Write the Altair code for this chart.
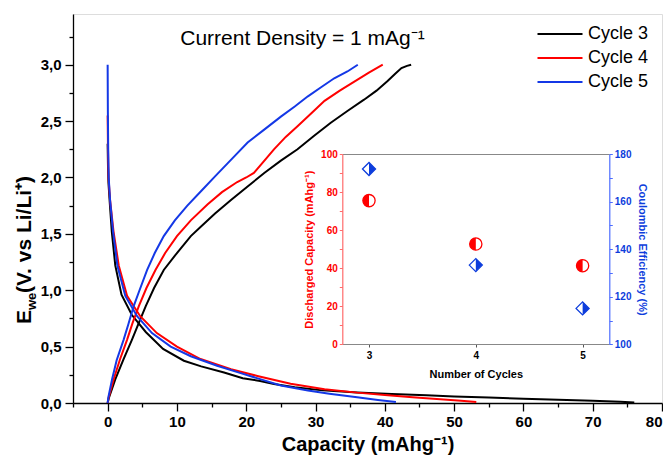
import altair as alt
import pandas as pd

# ---------------- main chart data (Capacity mAh/g, E_we V) ----------------
cycle_names = ["Cycle 3", "Cycle 4", "Cycle 5"]
cycle_colors = ["#000000", "#ff0000", "#1438e6"]

# Cycle 3
c3_dis_x = [0, 0.05, 0.12, 0.3, 0.6, 1.1, 2.0, 3.5, 5.5, 8, 11, 13.5, 16.8, 19.5, 22, 24, 27, 31, 36, 41, 46, 50, 55, 60, 65, 70, 74, 76]
c3_dis_y = [2.3, 2.1, 1.95, 1.78, 1.52, 1.22, 0.96, 0.78, 0.63, 0.48, 0.375, 0.325, 0.27, 0.22, 0.195, 0.168, 0.14, 0.112, 0.093, 0.08, 0.068, 0.058, 0.048, 0.038, 0.029, 0.02, 0.012, 0.005]
c3_chg_x = [0, 0.2, 1.1, 2.3, 3.5, 4.5, 5.5, 6.7, 8.1, 10, 12, 13.4, 15.5, 17.8, 20.2, 22.6, 25, 27.4, 29.8, 32.2, 34.6, 37, 38.8, 40.4, 41.5, 42.4, 43.2, 43.8]
c3_chg_y = [0.0, 0.05, 0.21, 0.39, 0.56, 0.71, 0.86, 1.02, 1.18, 1.33, 1.48, 1.56, 1.68, 1.80, 1.92, 2.04, 2.15, 2.25, 2.37, 2.485, 2.59, 2.69, 2.77, 2.855, 2.92, 2.97, 2.99, 3.0]

# Cycle 4
c4_dis_x = [0, 0.05, 0.12, 0.35, 0.85, 1.6, 2.8, 4.7, 7.1, 10, 13.4, 17.8, 21.6, 26.4, 31.3, 36, 40, 44, 48, 51, 53.2]
c4_dis_y = [2.55, 2.25, 2.0, 1.8, 1.52, 1.22, 0.95, 0.77, 0.62, 0.5, 0.39, 0.3, 0.24, 0.17, 0.122, 0.092, 0.072, 0.052, 0.033, 0.019, 0.008]
c4_chg_x = [0, 0.15, 0.87, 1.8, 2.8, 3.6, 4.5, 5.6, 6.9, 8.3, 10, 12, 14.4, 16.5, 18.7, 20, 21.1, 22.5, 24, 25.7, 27.4, 29.4, 31.3, 33.5, 35.6, 37.7, 39.7]
c4_chg_y = [0.0, 0.05, 0.21, 0.39, 0.56, 0.71, 0.86, 1.02, 1.18, 1.33, 1.48, 1.62, 1.76, 1.87, 1.96, 2.0, 2.04, 2.14, 2.25, 2.36, 2.455, 2.57, 2.68, 2.77, 2.85, 2.93, 3.0]

# Cycle 5
c5_dis_x = [0, 0.03, 0.08, 0.15, 0.35, 0.78, 1.4, 2.55, 4.25, 6.4, 9.1, 12, 15.8, 19.2, 22, 25, 28.9, 32, 36, 39, 41.6]
c5_dis_y = [3.0, 2.6, 2.25, 2.0, 1.8, 1.52, 1.22, 0.95, 0.77, 0.62, 0.5, 0.415, 0.33, 0.265, 0.212, 0.155, 0.11, 0.082, 0.05, 0.027, 0.008]
c5_chg_x = [0, 0.1, 0.64, 1.3, 2.3, 3.0, 3.76, 4.6, 5.7, 6.8, 8.1, 9.7, 11.5, 13.5, 15.5, 18, 20.2, 22.5, 25, 27, 28.9, 30.8, 32.7, 34.6, 36.1]
c5_chg_y = [0.0, 0.05, 0.21, 0.38, 0.56, 0.7, 0.86, 1.0, 1.18, 1.33, 1.48, 1.62, 1.75, 1.88, 2.01, 2.17, 2.31, 2.42, 2.54, 2.63, 2.72, 2.8, 2.88, 2.94, 3.0]

# ---------------- inset data ----------------
inset_cycles = [3, 4, 5]
discharged_capacity = [75.5, 52.7, 41.3]
coulombic_efficiency = [173.7, 133.3, 115.1]

x_ticks = list(range(-5, 81, 5))
y_ticks = [i * 0.25 for i in range(0, 14)]
inset_left_ticks = list(range(0, 101, 10))
inset_right_ticks = list(range(100, 181, 10))

# ---------------- build tables ----------------
rows = []
def add(cycle, branch, xs, ys):
    for i, (a, b) in enumerate(zip(xs, ys)):
        rows.append({"cycle": cycle, "branch": branch, "i": i, "cap": a, "e": b})

add("Cycle 3", "dis", c3_dis_x, c3_dis_y)
add("Cycle 3", "chg", c3_chg_x, c3_chg_y)
add("Cycle 4", "dis", c4_dis_x, c4_dis_y)
add("Cycle 4", "chg", c4_chg_x, c4_chg_y)
add("Cycle 5", "dis", c5_dis_x, c5_dis_y)
add("Cycle 5", "chg", c5_chg_x, c5_chg_y)
df = pd.DataFrame(rows)

inset = pd.DataFrame({"n": inset_cycles, "cap": discharged_capacity, "ce": coulombic_efficiency})

FONT = "Liberation Sans"
W, H = 589, 389
RED = "#ff0000"
BLUE = "#0d3ddc"

x_main = alt.Scale(domain=[-5, 80], nice=False, zero=False)
y_main = alt.Scale(domain=[0, 3.45], nice=False, zero=False)

x_axis = alt.Axis(
    orient="bottom", values=x_ticks, title="Capacity (mAhg⁻¹)",
    labelExpr="datum.value % 10 === 0 ? datum.label : ''",
    tickSize={"condition": {"test": "datum.value % 10 === 0", "value": 8}, "value": 4},
    labelFont=FONT, labelFontSize=15, labelFontWeight="bold", labelColor="black", labelPadding=3,
    titleFont=FONT, titleFontSize=20, titleFontWeight="bold", titleColor="black", titlePadding=5,
    domainColor="black", domainWidth=1.3, tickColor="black", tickWidth=1.3, grid=False,
    labelFlush=True, labelOverlap=False,
)
y_axis = alt.Axis(
    orient="left", values=y_ticks, title=None,
    labelExpr="round(datum.value * 4) % 2 === 0 ? replace(format(datum.value, '.1f'), '.', ',') : ''",
    tickSize={"condition": {"test": "round(datum.value * 4) % 2 === 0", "value": 8}, "value": 4},
    labelFont=FONT, labelFontSize=15, labelFontWeight="bold", labelColor="black", labelPadding=4,
    domainColor="black", domainWidth=1.3, tickColor="black", tickWidth=1.3, grid=False,
    labelFlush=False, labelOverlap=False,
)

lines = alt.Chart(df).mark_line(strokeWidth=2).encode(
    x=alt.X("cap:Q", scale=x_main, axis=x_axis),
    y=alt.Y("e:Q", scale=y_main, axis=y_axis),
    color=alt.Color(
        "cycle:N",
        scale=alt.Scale(domain=cycle_names, range=cycle_colors),
        legend=alt.Legend(
            title=None, orient="none", legendX=478, legendY=11,
            symbolType="M-3,0H3", symbolSize=225, symbolStrokeWidth=2,
            labelFont=FONT, labelFontSize=18, labelColor="black", labelOffset=19,
            rowPadding=6, padding=0,
        ),
    ),
    detail="branch:N",
    order="i:Q",
)

def label(txt, size, x, y, angle=0, weight="bold", align="left"):
    props = dict(align=align, baseline="alphabetic", font=FONT,
                 fontSize=size, fontWeight=weight, color="black")
    if angle:
        props["angle"] = angle
    return alt.Chart(pd.DataFrame({"t": [txt]})).mark_text(**props).encode(
        text="t:N", x=alt.value(x), y=alt.value(y))

# y-axis title with subscript, built from text pieces
t_E = label("E", 21, -42, 310, angle=270)
t_we = label("we", 13, -37, 296, angle=270)
t_rest = label(" (V. vs Li/Li⁺)", 21, -42, 279, angle=270)
# chart heading inside the frame
t_title = label("Current Density = 1 mAg⁻¹", 21, 229.5, 31, weight="normal", align="center")

# ---------------- inset ----------------
ix = alt.Scale(domain=[2.75, 5.25], range=[269.3, 536.3], nice=False, zero=False)
iy1 = alt.Scale(domain=[0, 100], range=[330.3, 140], nice=False, zero=False)
iy2 = alt.Scale(domain=[100, 180], range=[330.3, 140], nice=False, zero=False)

ax_ib = alt.Axis(
    orient="bottom", offset=-59, values=[3, 4, 5], title="Number of Cycles",
    tickSize=3, tickColor="#555555", domainColor="#888888", domainWidth=1.2,
    labelFont=FONT, labelFontSize=10, labelFontWeight="bold", labelColor="black", labelPadding=3,
    titleFont=FONT, titleFontSize=11, titleFontWeight="bold", titleColor="black", titlePadding=8,
    grid=False,
)
ax_it = alt.Axis(orient="top", offset=-140, ticks=False, labels=False, title=None,
                 domainColor="#888888", domainWidth=1.2, grid=False)
ax_il = alt.Axis(
    orient="left", offset=-269.3, values=inset_left_ticks, title="Discharged Capacity (mAhg⁻¹)",
    labelExpr="datum.value % 20 === 0 ? datum.label : ''",
    tickSize=3, tickColor="#ff6b6b", domainColor="#ff6b6b", domainWidth=1.2,
    labelFont=FONT, labelFontSize=10, labelFontWeight="bold", labelColor=RED, labelPadding=2,
    titleFont=FONT, titleFontSize=11, titleFontWeight="bold", titleColor=RED, titlePadding=6,
    grid=False, labelFlush=False,
)
ax_ir = alt.Axis(
    orient="right", offset=-52.7, values=inset_right_ticks, title="Coulombic Efficiency (%)",
    labelExpr="datum.value % 20 === 0 ? datum.label : ''",
    tickSize=3, tickColor="#4d6dff", domainColor="#4d6dff", domainWidth=1.2,
    labelFont=FONT, labelFontSize=10, labelFontWeight="bold", labelColor=BLUE, labelPadding=2,
    titleFont=FONT, titleFontSize=11, titleFontWeight="bold", titleColor=BLUE, titlePadding=6,
    grid=False, labelFlush=False,
)

MS = 150
circ_o = alt.Chart(inset).mark_point(shape="circle", filled=True, fill="white", stroke=RED,
                                     strokeWidth=1.3, size=MS, opacity=1).encode(
    x=alt.X("n:Q", scale=ix, axis=ax_ib),
    y=alt.Y("cap:Q", scale=iy1, axis=ax_il),
)
circ_h = alt.Chart(inset).mark_point(shape="M0,-1A1,1,0,0,0,0,1Z", filled=True, fill=RED,
                                     strokeWidth=0, size=MS, opacity=1).encode(
    x=alt.X("n:Q", scale=ix, axis=None),
    y=alt.Y("cap:Q", scale=iy1, axis=None),
)
dia_o = alt.Chart(inset).mark_point(shape="diamond", filled=True, fill="white", stroke=BLUE,
                                    strokeWidth=1.3, size=MS + 20, opacity=1).encode(
    x=alt.X("n:Q", scale=ix, axis=ax_it),
    y=alt.Y("ce:Q", scale=iy2, axis=ax_ir),
)
dia_h = alt.Chart(inset).mark_point(shape="M0,-1L1,0L0,1Z", filled=True, fill=BLUE,
                                    strokeWidth=0, size=MS + 20, opacity=1).encode(
    x=alt.X("n:Q", scale=ix, axis=None),
    y=alt.Y("ce:Q", scale=iy2, axis=None),
)

chart = alt.layer(lines, t_E, t_we, t_rest, t_title, circ_o, circ_h, dia_o, dia_h).resolve_scale(
    x="independent", y="independent"
).resolve_axis(
    x="independent", y="independent"
).properties(
    width=W, height=H,
    autosize=alt.AutoSizeParams(type="none"),
    padding={"left": 65, "top": 6, "right": 1, "bottom": 55},
).configure_view(
    stroke="black", strokeWidth=1.3
).configure(background="white")

chart.save("out.html", embed_options={"renderer": "svg", "actions": False})
